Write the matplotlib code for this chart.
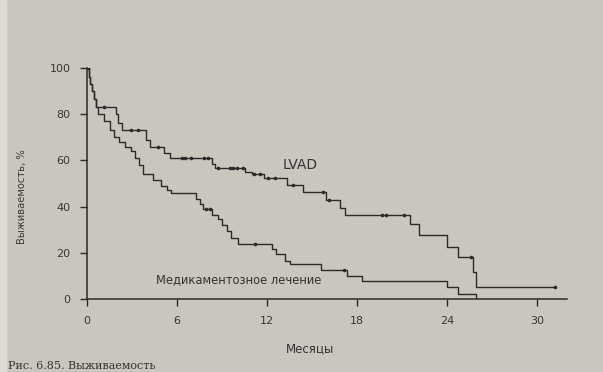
import numpy as np
import matplotlib
matplotlib.use("Agg")
from matplotlib import pyplot as plt
from matplotlib.patches import Rectangle

# Kaplan-Meier steps (months, survival %).
lvad_t = [0, 0.1, 0.2, 0.3, 0.45, 0.6, 1.9, 2.05, 2.35, 3.9, 4.2, 5.15, 5.5,
          8.3, 8.5, 10.5, 11.0, 11.8, 13.3, 14.4, 15.95, 16.85, 17.2, 21.5,
          22.15, 24.0, 24.75, 25.7, 25.9, 31.2]
lvad_s = [100, 96, 93, 90, 86.5, 83, 80, 76, 73, 69, 66, 63, 61,
          58.5, 56.5, 55, 54, 52.3, 49.5, 46.3, 43, 39.5, 36.5, 32.5,
          27.5, 22.5, 18.3, 11.5, 5, 5]
lvad_cens = [0.05, 1.1, 2.95, 3.4, 4.7, 6.3, 6.55, 6.9, 7.8, 8.05, 8.7, 9.5,
             9.75, 9.97, 10.4, 11.1, 11.5, 12.05, 12.5, 13.7, 15.7, 16.1,
             19.65, 19.9, 21.15, 25.6, 31.2]

med_t = [0, 0.1, 0.2, 0.3, 0.45, 0.6, 0.75, 1.1, 1.5, 1.8, 2.1, 2.5, 2.95,
         3.2, 3.45, 3.7, 4.4, 4.9, 5.3, 5.6, 7.25, 7.5, 7.75, 8.35, 8.7, 9.0,
         9.35, 9.6, 10.05, 12.3, 12.6, 13.2, 13.5, 15.6, 17.3, 18.3, 24.0,
         24.75, 25.9]
med_s = [100, 96, 93, 90, 86.5, 83, 80, 77, 73, 70, 68, 66, 64,
         61, 58, 54, 51.5, 49, 47, 46, 43.5, 41, 39, 36.5, 34.5, 32,
         29.5, 26.5, 24, 21.5, 19.5, 16.5, 15, 12.7, 10, 7.8, 5,
         2, 0]
med_cens = [7.95, 8.2, 11.2, 17.1]

x_ticks = [0, 6, 12, 18, 24, 30]
y_ticks = [0, 20, 40, 60, 80, 100]

ink = "#2a2a2a"
paper = "#c9c6bf"


def km_curve(ax, t, s, cens):
    ax.step(t, s, where="post", color=ink, lw=1.0)
    idx = np.searchsorted(t, cens, side="right") - 1
    ax.plot(cens, np.asarray(s)[idx], "o", color=ink, ms=2.6, mew=0)


fig = plt.figure(figsize=(6.03, 3.72), dpi=100, facecolor=paper)
# lighter page edge on the left of the photo
fig.patches.append(Rectangle((0, 0), 6 / 603, 1, transform=fig.transFigure,
                             color="#dddbd5", zorder=0))

ax = fig.add_axes([87 / 603, 1 - 299 / 372, 480 / 603, 231 / 372])
ax.set_facecolor("none")

km_curve(ax, lvad_t, lvad_s, lvad_cens)
km_curve(ax, med_t, med_s, med_cens)

ax.set_xlim(0, 32)
ax.set_ylim(0, 100)
ax.set_xticks(x_ticks)
ax.set_yticks(y_ticks)
ax.tick_params(direction="out", length=5, width=1.0, color=ink,
               labelcolor="#363636", labelsize=8, pad=7)
for side in ("top", "right"):
    ax.spines[side].set_visible(False)
for side in ("left", "bottom"):
    ax.spines[side].set_color(ink)
    ax.spines[side].set_linewidth(1.1)

ax.text(14.2, 58, "LVAD", fontsize=10, color="#333333", ha="center", va="center")
ax.text(10.1, 8.2, "Медикаментозное лечение", fontsize=8.3, color="#333333",
        ha="center", va="center")

ax.set_xlabel("Месяцы", fontsize=8.5, color="#333333")
ax.xaxis.set_label_coords((310 - 87) / 480, -(342 - 299) / 231)
fig.text(22 / 603, 1 - 197 / 372, "Выживаемость, %", rotation=90,
         fontsize=7.2, color="#3a3a3a", ha="center", va="center")

fig.text(8 / 603, 1 / 372, "Рис. 6.85. Выживаемость", fontsize=8,
         family="DejaVu Serif", color="#333333", va="bottom")

fig.savefig("out.png", dpi=100, facecolor=paper)
